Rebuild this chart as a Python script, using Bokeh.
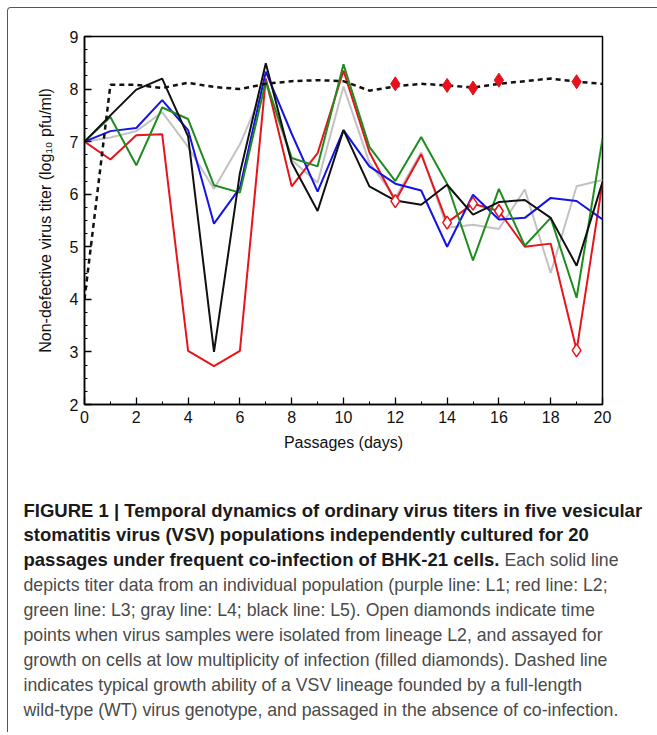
from bokeh.plotting import figure
from bokeh.models import Range1d, FixedTicker, ColumnDataSource, Div, Spacer
from bokeh.layouts import column, row
from bokeh.embed import file_html
from bokeh.resources import INLINE

# ---------------- data ----------------
passages = list(range(21))
L1_blue = [7.0, 7.2, 7.26, 7.79, 7.22, 5.44, 6.12, 8.33, 7.15, 6.05, 7.22,
           6.53, 6.2, 6.07, 5.0, 5.99, 5.52, 5.55, 5.93, 5.87, 5.52]
L2_red = [7.0, 6.66, 7.12, 7.14, 3.02, 2.73, 3.02, 8.2, 6.15, 6.78, 8.35,
          6.8, 5.87, 6.76, 5.46, 5.82, 5.68, 5.0, 5.06, 3.03, 6.22]
L3_green = [7.0, 7.47, 6.55, 7.65, 7.43, 6.17, 6.03, 8.15, 6.69, 6.53, 8.47,
            6.9, 6.25, 7.09, 6.2, 4.74, 6.1, 5.02, 5.55, 4.03, 7.05]
L4_gray = [7.0, 7.08, 7.2, 7.56, 6.9, 6.1, 6.95, 8.1, 6.65, 6.22, 8.05,
           6.6, 5.93, 6.8, 5.36, 5.42, 5.34, 6.09, 4.5, 6.15, 6.27]
L5_black = [7.0, 7.5, 7.99, 8.2, 7.1, 3.0, 6.4, 8.49, 6.6, 5.68, 7.22,
            6.15, 5.88, 5.8, 6.18, 5.61, 5.85, 5.89, 5.55, 4.64, 6.23]
WT_dashed = [4.0, 8.08, 8.08, 8.02, 8.12, 8.04, 8.0, 8.1, 8.15, 8.17, 8.15,
             7.97, 8.05, 8.1, 8.07, 8.03, 8.1, 8.15, 8.2, 8.14, 8.1]
isolate_days = [12, 14, 15, 16, 19]
isolate_titers = [L2_red[d] for d in isolate_days]
assay_titers = [8.1, 8.07, 8.02, 8.17, 8.14]

x_ticks = [0, 2, 4, 6, 8, 10, 12, 14, 16, 18, 20]
y_ticks = [2, 3, 4, 5, 6, 7, 8, 9]

caption_bold = [
    "FIGURE 1 | Temporal dynamics of ordinary virus titers in five vesicular",
    "stomatitis virus (VSV) populations independently cultured for 20",
    "passages under frequent co-infection of BHK-21 cells.",
]
caption_tail = "Each solid line"
caption_normal = [
    "depicts titer data from an individual population (purple line: L1; red line: L2;",
    "green line: L3; gray line: L4; black line: L5). Open diamonds indicate time",
    "points when virus samples were isolated from lineage L2, and assayed for",
    "growth on cells at low multiplicity of infection (filled diamonds). Dashed line",
    "indicates typical growth ability of a VSV lineage founded by a full-length",
    "wild-type (WT) virus genotype, and passaged in the absence of co-infection.",
]

FONT = "Liberation Sans"
FRAME_W, FRAME_H = 518, 368
B_LEFT, B_TOP, B_RIGHT, B_BOTTOM = 76, 28, 47, 56
W = B_LEFT + FRAME_W + B_RIGHT
H = B_TOP + FRAME_H + B_BOTTOM
EDGE = "1.5px solid #555"

# ---------------- chart ----------------
p = figure(width=W, height=H,
           min_border_left=B_LEFT, min_border_right=B_RIGHT,
           min_border_top=B_TOP, min_border_bottom=B_BOTTOM,
           x_range=Range1d(0, 20), y_range=Range1d(2, 9),
           output_backend="svg", toolbar_location=None,
           background_fill_color="white", border_fill_color="white")
p.xgrid.visible = False
p.ygrid.visible = False
p.outline_line_color = "black"
p.outline_line_width = 1.5
p.outline_line_alpha = 1.0

p.xaxis.ticker = FixedTicker(ticks=x_ticks, minor_ticks=[t + 1 for t in x_ticks[:-1]])
p.yaxis.ticker = FixedTicker(ticks=y_ticks,
                             minor_ticks=[t + f for t in y_ticks[:-1] for f in (0.25, 0.5, 0.75)])
for ax in (p.xaxis[0], p.yaxis[0]):
    ax.axis_line_width = 1.5
    ax.axis_line_color = "black"
    ax.major_tick_in = 7
    ax.major_tick_out = 0
    ax.minor_tick_in = 3
    ax.minor_tick_out = 0
    ax.major_tick_line_color = "black"
    ax.minor_tick_line_color = "black"
    ax.major_tick_line_width = 1.3
    ax.major_label_text_font = FONT
    ax.major_label_text_font_size = "16px"
    ax.major_label_text_color = "#111111"
    ax.axis_label_text_font = FONT
    ax.axis_label_text_font_size = "16px"
    ax.axis_label_text_font_style = "normal"
    ax.axis_label_text_color = "#111111"
    ax.major_label_standoff = 6
p.xaxis.axis_label = "Passages (days)"
p.xaxis.axis_label_standoff = 8
p.yaxis.axis_label = "Non-defective virus titer (log\u2081\u2080 pfu/ml)"
p.yaxis.axis_label_standoff = 13

src = ColumnDataSource(dict(x=passages, blue=L1_blue, red=L2_red, green=L3_green,
                            gray=L4_gray, black=L5_black, wt=WT_dashed))
p.line("x", "gray", source=src, line_color="#c2c2c2", line_width=2)
p.line("x", "red", source=src, line_color="#e8141c", line_width=2)
p.line("x", "blue", source=src, line_color="#1414e6", line_width=2)
p.line("x", "green", source=src, line_color="#1e8c1e", line_width=2)
p.line("x", "black", source=src, line_color="#111111", line_width=2)
p.line("x", "wt", source=src, line_color="#111111", line_width=2.5, line_dash="5 4")

p.scatter(isolate_days, isolate_titers, marker="diamond", size=13,
          fill_color="white", line_color="#e8141c", line_width=1.5)
p.scatter(isolate_days, assay_titers, marker="diamond", size=14,
          fill_color="#e8101a", line_color="#e8101a")

# ---------------- caption ----------------
LINE_H = 24.9
bold_style = "font-weight:bold;color:#1a1a1a;font-size:18.5px;"
norm_style = "font-weight:normal;color:#4a4a4a;font-size:17.7px;"
line_style = f"height:{LINE_H}px;line-height:{LINE_H}px;white-space:nowrap;margin:0;padding:0;"
cap_lines = [f'<span style="{bold_style}">{t}</span>' for t in caption_bold]
cap_lines[-1] += f' <span style="{norm_style}">{caption_tail}</span>'
cap_lines += [f'<span style="{norm_style}">{t}</span>' for t in caption_normal]
cap_html = ('<div style="font-family:\'Liberation Sans\',Arial,sans-serif;font-size:18px;'
            'padding:33.6px 0 0 10.5px;margin:0;">'
            + "".join(f'<div style="{line_style}">{l}</div>' for l in cap_lines)
            + "</div>")
cap = Div(text=cap_html, width=W, height=262)

inner = column(p, cap, spacing=0,
               styles={"border-left": EDGE, "border-top": EDGE,
                       "border-top-left-radius": "4px"})
layout = column(Spacer(height=7), row(Spacer(width=7), inner, spacing=0), spacing=0)

open("out.html", "w").write(file_html(layout, INLINE))
